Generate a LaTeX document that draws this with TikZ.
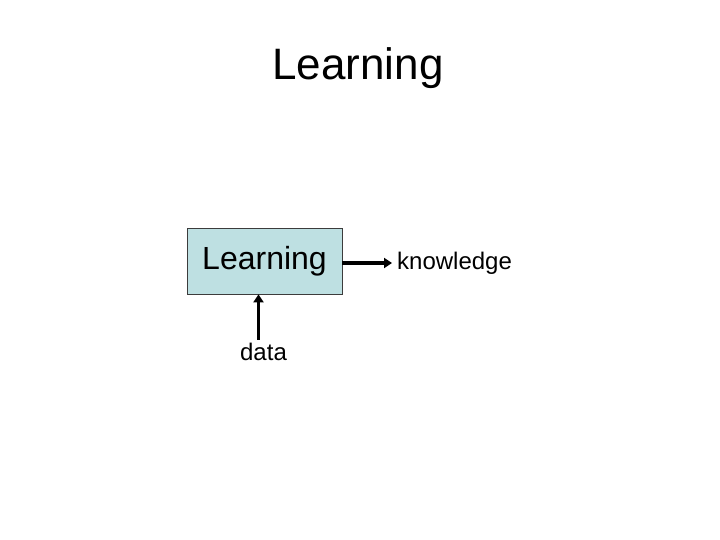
\documentclass[tikz,border=0pt]{standalone}
\usepackage{fontspec}
\setmainfont{Liberation Sans}
\usetikzlibrary{arrows.meta}
\definecolor{boxfill}{RGB}{190,224,226}
\definecolor{boxline}{RGB}{60,60,60}

\begin{document}
\begin{tikzpicture}[x=1pt, y=1pt,
    flow/.style={line width=3.6pt, -{Triangle[length=8pt, width=10pt]}},
    label/.style={inner sep=0pt, font=\fontsize{24}{28}\selectfont}]
  \useasboundingbox (0, 0) rectangle (720, 540);
  \node (title) at (358, 472) {\fontsize{44}{52}\selectfont Learning};
  \node (learn) [draw=boxline, line width=0.8pt, fill=boxfill,
    minimum width=155pt, minimum height=66pt,
    font=\fontsize{32}{38}\selectfont] at (264.5, 279) {Learning};
  \node (know) [label, anchor=west] at (397, 277) {knowledge};
  \node (data) [label] at (263.5, 188) {data};
  \draw [flow] (learn.east |- know.west) -- ([xshift=-5pt]know.west);
  \draw [flow] ([xshift=-5pt, yshift=3pt]data.north)
    -- ([xshift=-5pt]data.north |- learn.south);
\end{tikzpicture}
\end{document}
